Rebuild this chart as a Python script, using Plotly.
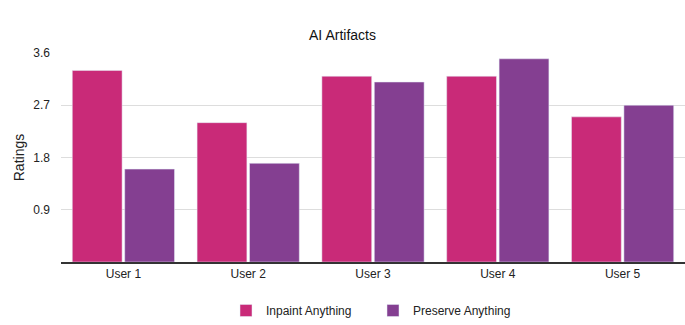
import plotly.graph_objects as go

users = ["User 1", "User 2", "User 3", "User 4", "User 5"]
inpaint = [3.3, 2.4, 3.2, 3.2, 2.5]
preserve = [1.6, 1.7, 3.1, 3.5, 2.7]
ticks = [0.9, 1.8, 2.7, 3.6]

fig = go.Figure()
fig.add_trace(go.Bar(x=users, y=inpaint, name="Inpaint Anything", marker_color="#c92a78"))
fig.add_trace(go.Bar(x=users, y=preserve, name="Preserve Anything", marker_color="#843f91"))

fig.update_layout(
    width=685, height=325,
    margin=dict(l=61, r=0, t=53, b=60),
    paper_bgcolor="white", plot_bgcolor="white",
    font=dict(family="Liberation Sans, Arial", size=12, color="#222"),
    title=dict(text="AI Artifacts", x=0.5, xanchor="center", y=0.893, yanchor="middle",
               font=dict(size=14, color="#111")),
    barmode="group", bargap=0.16, bargroupgap=0.05,
    legend=dict(orientation="h", x=0.5, xanchor="center", y=-0.232, yanchor="middle",
                font=dict(size=12), itemwidth=30, entrywidth=102, traceorder="normal"),
)
fig.update_yaxes(range=[0, 3.6], tickvals=ticks, ticktext=[str(t) for t in ticks],
                 showgrid=True, gridcolor="#dddddd", zeroline=False, automargin=False,
                 title=dict(text="Ratings", standoff=5), ticks="", ticklen=0,
                 ticklabelstandoff=10)
fig.update_xaxes(showline=True, linecolor="#333", linewidth=1.5, ticks="", automargin=False)

# drop the browser's default body margin so the figure sits at the window corner
fig.write_html("out.html", config={"displayModeBar": False},
               post_script="document.body.style.margin='0';")
